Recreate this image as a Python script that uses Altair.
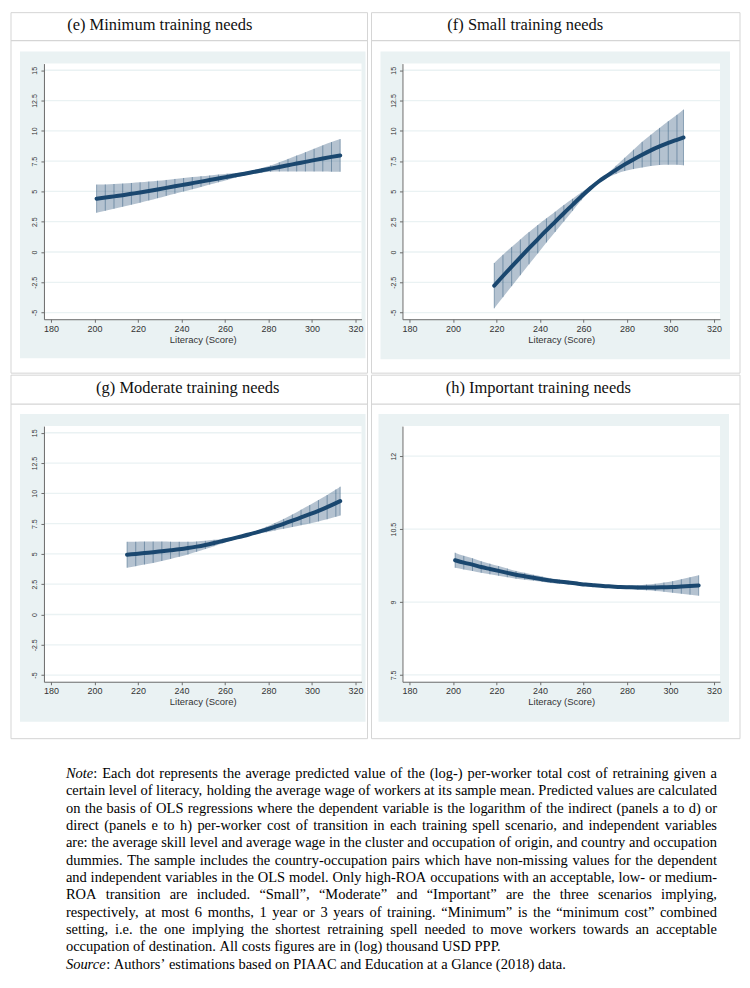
import altair as alt
import pandas as pd

# ---------------- data ----------------
TITLES = ["(e) Minimum training needs", "(f) Small training needs",
          "(g) Moderate training needs", "(h) Important training needs"]
X_TITLE = "Literacy (Score)"
X_TICKS = [180, 200, 220, 240, 260, 280, 300, 320]
Y_TICKS_MAIN = [-5, -2.5, 0, 2.5, 5, 7.5, 10, 12.5, 15]
Y_TICKS_H = [7.5, 9, 10.5, 12]

E_SCORE = [201, 205, 209, 213, 217, 221, 225, 229, 233, 237, 241, 245, 249, 253, 257,
           261, 265, 269, 273, 277, 281, 285, 289, 293, 297, 301, 305, 309, 313]
E_MEAN = [4.40, 4.49, 4.59, 4.69, 4.80, 4.91, 5.03, 5.16, 5.29, 5.42, 5.55, 5.68, 5.81, 5.94, 6.07,
          6.20, 6.33, 6.46, 6.60, 6.74, 6.88, 7.02, 7.16, 7.30, 7.44, 7.58, 7.72, 7.85, 7.97]
E_LOW = [3.24, 3.40, 3.57, 3.73, 3.90, 4.07, 4.25, 4.44, 4.63, 4.81, 4.99, 5.18, 5.37, 5.56, 5.75,
         5.94, 6.14, 6.32, 6.46, 6.55, 6.62, 6.64, 6.64, 6.64, 6.64, 6.64, 6.64, 6.63, 6.62]
E_HIGH = [5.56, 5.58, 5.61, 5.65, 5.70, 5.75, 5.81, 5.88, 5.95, 6.03, 6.11, 6.18, 6.25, 6.32, 6.39,
          6.46, 6.52, 6.60, 6.74, 6.93, 7.14, 7.40, 7.68, 7.96, 8.24, 8.52, 8.80, 9.07, 9.32]

F_SCORE = [219, 223, 227, 231, 235, 239, 243, 247, 251, 255, 259, 263, 267, 271, 275,
           279, 283, 287, 291, 295, 299, 303, 306]
F_MEAN = [-2.78, -1.98, -1.20, -0.44, 0.31, 1.05, 1.78, 2.49, 3.20, 3.89, 4.58, 5.23, 5.82, 6.31, 6.78,
          7.23, 7.64, 8.03, 8.39, 8.71, 9.00, 9.26, 9.45]
F_LOW = [-4.65, -3.73, -2.82, -1.92, -1.02, -0.12, 0.78, 1.65, 2.52, 3.39, 4.26, 5.04, 5.70, 6.13, 6.44,
         6.68, 6.84, 6.97, 7.10, 7.18, 7.20, 7.20, 7.15]
F_HIGH = [-0.91, -0.23, 0.42, 1.04, 1.64, 2.22, 2.78, 3.33, 3.88, 4.39, 4.90, 5.42, 5.94, 6.49, 7.12,
          7.78, 8.44, 9.09, 9.68, 10.24, 10.80, 11.32, 11.75]

G_SCORE = [215, 219, 223, 227, 231, 235, 239, 243, 247, 251, 255, 259, 263, 267, 271,
           275, 279, 283, 287, 291, 295, 299, 303, 307, 311, 313]
G_MEAN = [4.93, 5.00, 5.07, 5.14, 5.22, 5.30, 5.38, 5.48, 5.60, 5.74, 5.90, 6.07, 6.24, 6.42, 6.60,
          6.80, 7.01, 7.24, 7.48, 7.74, 8.01, 8.28, 8.56, 8.86, 9.19, 9.36]
G_LOW = [3.86, 3.99, 4.12, 4.26, 4.42, 4.59, 4.76, 4.95, 5.17, 5.40, 5.64, 5.88, 6.10, 6.31, 6.48,
         6.64, 6.78, 6.93, 7.07, 7.22, 7.37, 7.52, 7.68, 7.86, 8.06, 8.17]
G_HIGH = [6.00, 6.01, 6.02, 6.02, 6.02, 6.01, 6.00, 6.01, 6.03, 6.08, 6.16, 6.26, 6.38, 6.53, 6.72,
          6.96, 7.24, 7.55, 7.89, 8.26, 8.65, 9.04, 9.44, 9.86, 10.32, 10.55]

H_SCORE = [201, 205, 209, 213, 217, 221, 225, 229, 233, 237, 241, 245, 249, 253, 257,
           261, 265, 269, 273, 277, 281, 285, 289, 293, 297, 301, 305, 309, 313]
H_MEAN = [9.86, 9.81, 9.77, 9.72, 9.68, 9.64, 9.60, 9.56, 9.53, 9.50, 9.47, 9.44, 9.42, 9.40, 9.38,
          9.36, 9.345, 9.33, 9.32, 9.31, 9.305, 9.30, 9.30, 9.30, 9.305, 9.31, 9.32, 9.33, 9.34]
H_LOW = [9.705, 9.67, 9.64, 9.60, 9.57, 9.54, 9.51, 9.48, 9.46, 9.44, 9.415, 9.39, 9.375, 9.36, 9.345,
         9.33, 9.317, 9.305, 9.295, 9.282, 9.27, 9.255, 9.24, 9.225, 9.21, 9.19, 9.17, 9.15, 9.13]
H_HIGH = [10.015, 9.95, 9.90, 9.84, 9.79, 9.74, 9.69, 9.64, 9.60, 9.56, 9.525, 9.49, 9.465, 9.44, 9.415,
          9.39, 9.373, 9.355, 9.345, 9.338, 9.34, 9.345, 9.36, 9.375, 9.40, 9.43, 9.47, 9.51, 9.55]

NOTE_PREFIXES = {0: "Note", 11: "Source"}
NOTE_LINES = [
    ": Each dot represents the average predicted value of the (log-) per-worker total cost of retraining given a",
    "certain level of literacy, holding the average wage of workers at its sample mean. Predicted values are calculated",
    "on the basis of OLS regressions where the dependent variable is the logarithm of the indirect (panels a to d) or",
    "direct (panels e to h) per-worker cost of transition in each training spell scenario, and independent variables",
    "are: the average skill level and average wage in the cluster and occupation of origin, and country and occupation",
    "dummies. The sample includes the country-occupation pairs which have non-missing values for the dependent",
    "and independent variables in the OLS model. Only high-ROA occupations with an acceptable, low- or medium-",
    "ROA transition are included. \u201cSmall\u201d, \u201cModerate\u201d and \u201cImportant\u201d are the three scenarios implying,",
    "respectively, at most 6 months, 1 year or 3 years of training. \u201cMinimum\u201d is the \u201cminimum cost\u201d combined",
    "setting, i.e. the one implying the shortest retraining spell needed to move workers towards an acceptable",
    "occupation of destination. All costs figures are in (log) thousand USD PPP.",
    ": Authors\u2019 estimations based on PIAAC and Education at a Glance (2018) data.",
]
NOTE_RAGGED = [10, 11]   # paragraph-final lines (not justified)

# ---------------- style ----------------
NAVY = "#1a476f"
BG = "#eaf2f3"
RULE = "#d5d5d5"
AX = "#6a6a6a"
TXT = "#333333"
SERIF = "Liberation Serif"
SANS = "Liberation Sans"
W, H = 318, 256
X_DOMAIN = [176.8, 322.8]
Y_DOMAIN_MAIN = [-5.55, 15.55]
Y_DOMAIN_H = [7.36, 12.62]

GEOM = {
    "e": dict(cl=-33, cr=324, ct=-51, cb=310, dv=-23, tx=116, ty=-34, bl=-24, br=322, bt=-12, bb=295),
    "f": dict(cl=-31, cr=338, ct=-51, cb=310, dv=-23, tx=123, ty=-34, bl=-22, br=328, bt=-12, bb=296),
    "g": dict(cl=-33, cr=324, ct=-51, cb=313, dv=-22, tx=144, ty=-33, bl=-24, br=322, bt=-12, bb=296),
    "h": dict(cl=-31, cr=338, ct=-51, cb=313, dv=-22, tx=136, ty=-33, bl=-24, br=327, bt=-12, bb=296),
}


def panel(key, title, xs, mean, low, high, yticks, ydom):
    g = GEOM[key]
    df = pd.DataFrame({"score": xs, "mean": mean, "low": low, "high": high})
    one = pd.DataFrame({"t": [title]})
    grid = pd.DataFrame({"tick": yticks})

    xsc = alt.Scale(domain=X_DOMAIN, nice=False, zero=False)
    ysc = alt.Scale(domain=ydom, nice=False, zero=False)
    xaxis = alt.Axis(values=X_TICKS, title=X_TITLE, grid=False, zindex=1, tickSize=3,
                     tickColor=AX, domainColor=AX, domainWidth=1, labelFont=SANS, labelFontSize=9,
                     labelColor=TXT, labelPadding=2, labelOverlap=False, labelFlush=False,
                     titleFont=SANS, titleFontSize=9.5, titleFontWeight="normal",
                     titleColor=TXT, titlePadding=1)
    yaxis = alt.Axis(values=yticks, title=None, grid=False, zindex=1, tickSize=3,
                     tickColor=AX, domainColor=AX, domainWidth=1, labelFont=SANS, labelFontSize=7,
                     labelColor=TXT, labelPadding=3, labelAngle=270, labelAlign="center",
                     labelBaseline="bottom", labelOverlap=False, labelFlush=False,
                     labelExpr="'' + datum.value")

    cell = alt.Chart(one).mark_rect(fill="white", stroke=RULE, strokeWidth=1).encode(
        x=alt.value(g["cl"]), x2=alt.value(g["cr"]), y=alt.value(g["ct"]), y2=alt.value(g["cb"]))
    divider = alt.Chart(one).mark_rule(color=RULE, strokeWidth=1.2).encode(
        x=alt.value(g["cl"]), x2=alt.value(g["cr"]), y=alt.value(g["dv"]))
    ttl = alt.Chart(one).mark_text(font=SERIF, fontSize=16.5, align="center",
                                   baseline="alphabetic", color="#111111").encode(
        x=alt.value(g["tx"]), y=alt.value(g["ty"]), text="t:N")
    bg = alt.Chart(one).mark_rect(fill=BG).encode(
        x=alt.value(g["bl"]), x2=alt.value(g["br"]), y=alt.value(g["bt"]), y2=alt.value(g["bb"]))
    plotbg = alt.Chart(one).mark_rect(fill="white").encode(
        x=alt.value(0), x2=alt.value(W), y=alt.value(0), y2=alt.value(H))
    gridl = alt.Chart(grid).mark_rule(color=BG, strokeWidth=1.3).encode(
        y=alt.Y("tick:Q", scale=ysc, axis=yaxis), x=alt.value(0), x2=alt.value(W))

    base = alt.Chart(df)
    band = base.mark_area(color=NAVY, opacity=0.33, interpolate="monotone").encode(
        x=alt.X("score:Q", scale=xsc, axis=xaxis),
        y=alt.Y("low:Q", scale=ysc, axis=yaxis), y2="high:Q")
    spikes = base.mark_rule(color=NAVY, opacity=0.6, strokeWidth=0.7).encode(
        x=alt.X("score:Q", scale=xsc, axis=xaxis),
        y=alt.Y("low:Q", scale=ysc, axis=yaxis), y2="high:Q")
    line = base.mark_line(color=NAVY, strokeWidth=4, strokeCap="round",
                          interpolate="monotone").encode(
        x=alt.X("score:Q", scale=xsc, axis=xaxis),
        y=alt.Y("mean:Q", scale=ysc, axis=yaxis))

    return alt.layer(cell, divider, ttl, bg, plotbg, gridl, band, spikes, line).properties(
        width=W, height=H)


pe = panel("e", TITLES[0], E_SCORE, E_MEAN, E_LOW, E_HIGH, Y_TICKS_MAIN, Y_DOMAIN_MAIN)
pf = panel("f", TITLES[1], F_SCORE, F_MEAN, F_LOW, F_HIGH, Y_TICKS_MAIN, Y_DOMAIN_MAIN)
pg = panel("g", TITLES[2], G_SCORE, G_MEAN, G_LOW, G_HIGH, Y_TICKS_MAIN, Y_DOMAIN_MAIN)
ph = panel("h", TITLES[3], H_SCORE, H_MEAN, H_LOW, H_HIGH, Y_TICKS_H, Y_DOMAIN_H)

# ---------------- note (justified text block) ----------------
NOTE_FS = 14.5
NOTE_LEFT = 22          # relative to the note view origin
NOTE_WIDTH = 652
NOTE_TOP = 37.5
NOTE_LEAD = 17.35

# Times metrics (per 1000 em) for laying out the justified paragraph
_W = {' ': 250, '!': 333, '"': 408, '%': 833, '&': 778, "'": 180, '(': 333, ')': 333,
      ',': 250, '-': 333, '.': 250, '/': 278, ':': 278, ';': 278, '?': 444,
      'A': 722, 'B': 667, 'C': 667, 'D': 722, 'E': 611, 'F': 556, 'G': 722, 'H': 722,
      'I': 333, 'J': 389, 'K': 722, 'L': 611, 'M': 889, 'N': 722, 'O': 722, 'P': 556,
      'Q': 722, 'R': 667, 'S': 556, 'T': 611, 'U': 722, 'V': 722, 'W': 944, 'X': 722,
      'Y': 722, 'Z': 611, 'a': 444, 'b': 500, 'c': 444, 'd': 500, 'e': 444, 'f': 333,
      'g': 500, 'h': 500, 'i': 278, 'j': 278, 'k': 500, 'l': 278, 'm': 778, 'n': 500,
      'o': 500, 'p': 500, 'q': 500, 'r': 333, 's': 389, 't': 278, 'u': 500, 'v': 500,
      'w': 722, 'x': 500, 'y': 500, 'z': 444, '\u201c': 444, '\u201d': 444, '\u2019': 333}
_WI = {'N': 667, 'o': 500, 't': 278, 'e': 444, 'S': 500, 'u': 500, 'r': 389, 'c': 444}


def text_w(s, italic=False):
    table = _WI if italic else _W
    return sum(table.get(ch, _W.get(ch, 500)) for ch in s) / 1000.0 * NOTE_FS


rows, xs_, words, ital = [], [], [], []
space = text_w(" ")
for i, line in enumerate(NOTE_LINES):
    toks = line.split(" ")
    items = []  # (text, italic, glued)
    if i in NOTE_PREFIXES:
        items.append((NOTE_PREFIXES[i], True, False))
        items.append((toks[0], False, True))
        toks = toks[1:]
    for t in toks:
        items.append((t, False, False))
    gaps = sum(1 for k, it in enumerate(items) if k > 0 and not it[2])
    natural = sum(text_w(t, it) for t, it, _ in items) + gaps * space
    gap = space
    if i not in NOTE_RAGGED and gaps > 0:
        gap = space + (NOTE_WIDTH - natural) / gaps
    cur = NOTE_LEFT
    for k, (t, it, glued) in enumerate(items):
        if k > 0 and not glued:
            cur += gap
        rows.append(i)
        xs_.append(cur)
        words.append(t)
        ital.append(it)
        cur += text_w(t, it)

word_df = pd.DataFrame({"row": rows, "px": xs_, "word": words, "it": ital})
n = len(NOTE_LINES)
ysc_note = alt.Scale(domain=[0, n - 1], range=[NOTE_TOP, NOTE_TOP + NOTE_LEAD * (n - 1)])

regular = alt.Chart(word_df).transform_filter(alt.datum.it == False).mark_text(
    font=SERIF, fontSize=NOTE_FS, align="left", baseline="alphabetic", color="black").encode(
    x=alt.X("px:Q", scale=None, axis=None),
    y=alt.Y("row:Q", scale=ysc_note, axis=None), text="word:N")
italic = alt.Chart(word_df).transform_filter(alt.datum.it == True).mark_text(
    font=SERIF, fontSize=NOTE_FS, fontStyle="italic", align="left", baseline="alphabetic",
    color="black").encode(
    x=alt.X("px:Q", scale=None, axis=None),
    y=alt.Y("row:Q", scale=ysc_note, axis=None), text="word:N")

note = alt.layer(regular, italic).properties(width=690, height=232)

row1 = alt.hconcat(pe, pf, spacing=0)
row2 = alt.hconcat(pg, ph, spacing=0)
chart = alt.vconcat(row1, row2, note, spacing=0).properties(
    padding={"left": 1, "top": 3, "right": 0, "bottom": 0},
    background="white",
).configure_view(stroke="transparent")

chart.save("out.html", embed_options={"renderer": "svg", "actions": False})
